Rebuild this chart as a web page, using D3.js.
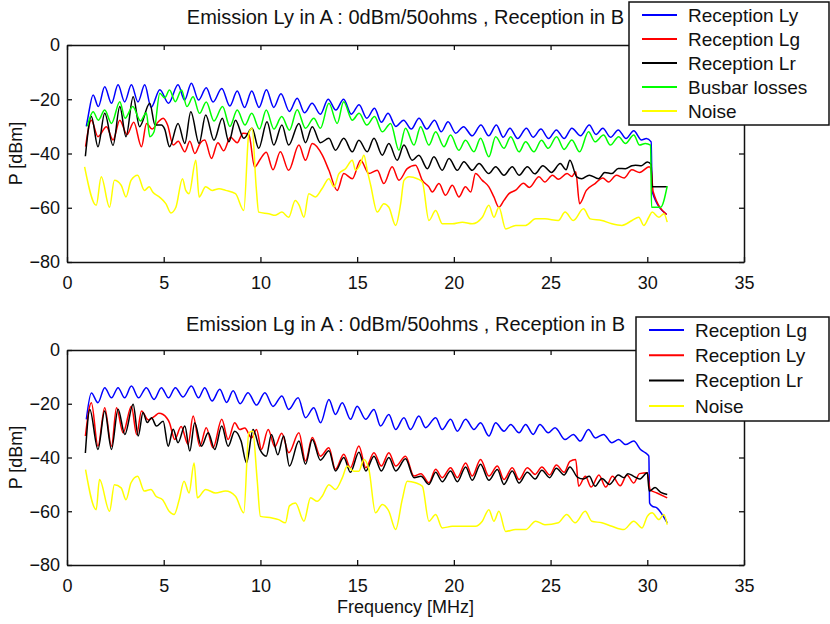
<!DOCTYPE html>
<html>
<head>
<meta charset="utf-8">
<script src="https://cdn.jsdelivr.net/npm/d3@7/dist/d3.min.js"></script>
<style>
  body { margin: 0; background: #fff; }
  svg text { font-family: "Liberation Sans", Arial, Helvetica, sans-serif; fill: #111; }
</style>
</head>
<body>
<script>
// ---------- axis ticks ----------
var xTicks = [0, 5, 10, 15, 20, 25, 30, 35];
var yTicks = [0, -20, -40, -60, -80];

// ---------- top panel : emission Ly in A, [MHz, dBm] ----------
var topLy = [[1.0,-30],[1.1,-26],[1.35,-18.4],[1.62,-22.7],[1.95,-15.4],[2.3,-21.5],[2.64,-14.7],[2.98,-21],[3.33,-14.7],[3.67,-21],[4.02,-14.7],[4.35,-23],[4.8,-16.5],[5.25,-21.5],[5.74,-14.7],[6.08,-20.3],[6.43,-14.1],[6.8,-20.3],[7.2,-15.8],[7.55,-21],[8.0,-16],[8.42,-22.5],[8.8,-17],[9.18,-23],[9.55,-17],[9.93,-23],[10.31,-16.5],[10.69,-23],[11.06,-18],[11.5,-24.5],[11.9,-19.6],[12.28,-25],[12.67,-21.5],[13.1,-25.5],[13.5,-20],[13.9,-24],[14.3,-20],[14.7,-25.5],[15.1,-22],[15.5,-27],[15.9,-23.3],[16.25,-28.5],[16.6,-25.2],[17.0,-30],[17.4,-27.7],[17.8,-31],[18.2,-27],[18.6,-31],[19.0,-27.7],[19.35,-32],[19.7,-28.3],[20.1,-32.5],[20.5,-30.1],[20.95,-33.5],[21.4,-29.5],[21.8,-33.5],[22.2,-29.5],[22.55,-34],[22.9,-30.7],[23.3,-34.5],[23.75,-30.7],[24.1,-34],[24.5,-31],[24.9,-34.5],[25.3,-31.3],[25.7,-34.5],[26.1,-30.7],[26.55,-33.5],[27.0,-29.5],[27.35,-33],[27.7,-30.7],[28.1,-34],[28.5,-31.3],[28.9,-34.5],[29.3,-31.6],[29.7,-35],[29.95,-34.5],[30.2,-35.7],[30.25,-54],[31.0,-62.5]];

var topLg = [[0.96,-37.5],[1.26,-27.7],[1.6,-33.8],[2.04,-30.1],[2.38,-35],[2.73,-27.7],[3.1,-33],[3.45,-28.5],[3.85,-37.5],[4.11,-28.9],[4.4,-31],[4.7,-28.5],[4.97,-27],[5.2,-29.5],[5.49,-36.9],[5.75,-35.5],[6.09,-39.4],[6.35,-35.5],[6.61,-40],[6.9,-36],[7.12,-35],[7.47,-41.8],[7.8,-36],[8.1,-39],[8.45,-34],[8.8,-36],[9.1,-32.5],[9.4,-33],[9.7,-45],[10.0,-42],[10.3,-39.5],[10.65,-46],[11.03,-39.4],[11.46,-46.2],[11.99,-36.9],[12.33,-42.5],[12.68,-36.3],[13.2,-40.6],[13.54,-46.2],[13.97,-53.6],[14.31,-47.4],[14.75,-49.3],[15.18,-42.5],[15.61,-47.4],[16.04,-46.2],[16.38,-51.1],[16.81,-44.9],[17.16,-49.9],[17.59,-45.6],[18.02,-44.3],[18.37,-49.9],[18.71,-52.3],[18.88,-54.2],[19.23,-51.1],[19.57,-55.4],[19.92,-51.7],[20.26,-56],[20.6,-52.3],[20.87,-54.2],[21.12,-47.4],[21.47,-49.9],[21.81,-52.3],[22.07,-56],[22.33,-59.8],[22.59,-57.3],[22.85,-54.8],[23.2,-53.5],[23.6,-51],[23.9,-52.5],[24.4,-48.6],[24.7,-50.5],[25.1,-48],[25.4,-49.5],[25.85,-47.4],[26.1,-48.5],[26.3,-46.7],[26.5,-58.5],[26.85,-53.6],[27.3,-51.1],[27.7,-49],[28.0,-50.5],[28.4,-48],[28.8,-49],[29.2,-46],[29.6,-47],[30.1,-44.9],[30.2,-46],[30.3,-54],[31.0,-62.5]];

var topLr = [[0.95,-41],[1.26,-26.4],[1.6,-37.5],[1.95,-25.2],[2.38,-37],[2.73,-22.7],[3.05,-33.8],[3.42,-19.1],[3.75,-30.1],[4.28,-21.5],[4.55,-29.5],[4.88,-29.5],[5.05,-31],[5.3,-37.5],[5.74,-28.9],[6.09,-36.3],[6.4,-24.6],[6.83,-36.3],[7.17,-25.8],[7.6,-35.1],[8.03,-27],[8.37,-35.7],[8.71,-27.7],[9.14,-34.4],[9.57,-30.7],[9.91,-38.1],[10.34,-28.3],[10.69,-36.9],[11.11,-29.5],[11.46,-36.9],[11.99,-28.9],[12.33,-36],[12.68,-30.1],[13.1,-36],[13.54,-34.4],[13.88,-38.8],[14.31,-34.4],[14.75,-39.4],[15.09,-35.1],[15.52,-39.4],[15.87,-34.4],[16.3,-40.6],[16.64,-36.3],[17.07,-42.5],[17.42,-36.9],[17.85,-42.5],[18.19,-40.6],[18.63,-45.6],[18.97,-41.2],[19.4,-46.2],[19.75,-41.8],[20.18,-46.2],[20.52,-43],[20.95,-46.2],[21.3,-43.7],[21.81,-47.4],[22.16,-44.9],[22.59,-48],[23.02,-44.9],[23.37,-48],[23.8,-44.9],[24.19,-47.5],[24.6,-44.5],[25.05,-47],[25.5,-43.7],[25.8,-46],[26.0,-42.5],[26.35,-48.6],[26.61,-49.3],[27.0,-48],[27.48,-49.3],[27.8,-47],[28.17,-47.4],[28.5,-45.5],[28.87,-45.6],[29.2,-44.5],[29.39,-44.3],[29.7,-44.5],[30.0,-43.1],[30.2,-44],[30.25,-52.3],[31.03,-52.3]];

var topBusbar = [[1.05,-30],[1.35,-24.6],[1.62,-27.7],[1.95,-24],[2.3,-28.9],[2.73,-20.9],[3.0,-27],[3.4,-22.7],[3.8,-28],[4.1,-25],[4.28,-33.8],[4.5,-32],[4.8,-17.8],[5.05,-19.5],[5.3,-16.6],[5.6,-20.9],[5.92,-16.6],[6.2,-22.7],[6.52,-19.1],[6.85,-25.2],[7.2,-21],[7.6,-28],[8.04,-22.7],[8.42,-30],[8.8,-24],[9.2,-29.5],[9.55,-25.2],[9.95,-31],[10.3,-24],[10.7,-31],[11.1,-26.4],[11.5,-31.4],[11.9,-23.9],[12.33,-30.7],[12.76,-27],[13.1,-30.7],[13.54,-21.5],[13.97,-28.9],[14.3,-20.9],[14.75,-27.7],[15.1,-25.2],[15.5,-29.5],[15.9,-26.4],[16.3,-32],[16.73,-28.9],[17.16,-38.8],[17.5,-30.7],[17.94,-36.9],[18.28,-30.1],[18.71,-36.9],[19.06,-32],[19.49,-37.5],[19.83,-33.2],[20.26,-38.8],[20.6,-35.1],[21.04,-39.4],[21.38,-34.4],[21.81,-41.2],[22.16,-33.8],[22.59,-38.1],[22.94,-33.8],[23.37,-39.4],[23.71,-35.7],[24.14,-39.4],[24.53,-35.1],[24.88,-38.1],[25.31,-33.8],[25.7,-38.5],[26.1,-35],[26.5,-39.4],[26.96,-32],[27.3,-35.7],[27.74,-33.2],[28.09,-36.9],[28.52,-33.8],[28.87,-36.3],[29.3,-33.2],[29.6,-36.9],[29.9,-36.3],[30.17,-36.9],[30.22,-59.8],[30.69,-59.8],[31.03,-52]];

var topNoise = [[0.91,-44.9],[1.51,-59.1],[1.77,-48.6],[2.2,-59.8],[2.45,-49.9],[2.8,-51.7],[3.05,-56],[3.31,-49.9],[3.65,-48],[4.0,-53.6],[4.25,-52.3],[4.43,-54.2],[4.77,-56],[5.11,-58.5],[5.37,-61.9],[5.63,-59.8],[5.97,-49.3],[6.14,-53.6],[6.31,-54.8],[6.66,-42.5],[6.83,-56],[7.17,-52.3],[7.51,-53.6],[7.86,-53],[8.2,-53.6],[8.71,-54.8],[9.14,-61],[9.4,-32.6],[9.57,-30.7],[9.78,-52.3],[9.91,-61.6],[10.43,-62.2],[10.77,-62.8],[11.11,-61.6],[11.46,-63.5],[11.8,-57.3],[12.0,-59],[12.25,-63.5],[12.5,-54.8],[12.85,-56],[13.19,-52.9],[13.54,-49.3],[13.8,-52.3],[14.06,-47.4],[14.4,-45.6],[14.75,-42.5],[14.92,-46.2],[15.18,-43.7],[15.35,-40.6],[15.52,-46.2],[15.7,-51.7],[16.04,-61.6],[16.38,-58.5],[16.64,-59.8],[16.99,-66.5],[17.25,-58.5],[17.42,-49.9],[17.68,-48.6],[18.11,-49.3],[18.37,-50.5],[18.71,-64.7],[19.06,-61],[19.4,-65.9],[19.92,-65.9],[20.44,-65.3],[20.95,-65.9],[21.47,-63.5],[21.81,-59.1],[22.07,-63.5],[22.33,-59.8],[22.68,-67.8],[23.2,-66.5],[23.71,-66.5],[24.23,-64.1],[24.71,-64.1],[25.4,-64.7],[25.75,-61.6],[26.18,-64.7],[26.7,-60.4],[27.05,-64.1],[27.65,-64.7],[28.17,-65.9],[28.69,-66.5],[29.21,-64.7],[29.56,-63.5],[29.82,-66.5],[30.08,-63.5],[30.25,-61.6],[30.6,-63.5],[30.86,-62.2],[31.03,-65.3]];

// ---------- bottom panel : emission Lg in A ----------
var botLg = [[1.0,-25.8],[1.26,-16],[1.6,-19.6],[1.95,-14],[2.3,-17.8],[2.64,-14],[2.98,-17.8],[3.33,-13.4],[3.7,-17.8],[4.1,-14],[4.5,-18.4],[4.88,-14],[5.25,-17.8],[5.6,-14],[6.0,-17.5],[6.43,-13.4],[6.8,-17.8],[7.12,-14],[7.5,-19],[7.9,-14.6],[8.25,-19.5],[8.59,-15.2],[8.95,-20],[9.36,-15.9],[9.8,-20.5],[10.23,-15.9],[10.65,-21],[11.11,-17.1],[11.46,-22.1],[11.95,-17.8],[12.33,-25.2],[12.76,-21.5],[13.11,-27.1],[13.54,-18.4],[13.88,-24],[14.23,-19.6],[14.66,-25.8],[15.0,-20.9],[15.44,-25.8],[15.87,-22.1],[16.21,-28.3],[16.64,-24],[16.99,-29.6],[17.42,-25.2],[17.76,-29.6],[18.19,-24.6],[18.54,-28.9],[19.06,-25.2],[19.4,-29.6],[19.83,-25.8],[20.18,-30.2],[20.61,-25.8],[21.04,-29.6],[21.38,-27.1],[21.81,-32],[22.16,-27.1],[22.59,-30.2],[22.94,-27.7],[23.37,-30.8],[23.71,-27.7],[24.1,-31.4],[24.45,-27.7],[24.88,-30.8],[25.23,-28.9],[25.75,-33.3],[26.18,-31.4],[26.53,-33.9],[26.96,-29.6],[27.31,-32.7],[27.74,-31.4],[28.17,-34.5],[28.52,-33.3],[28.87,-35.2],[29.3,-33.9],[29.65,-37],[29.91,-38.3],[30.08,-39.5],[30.12,-56.9],[30.25,-58.1],[30.51,-58.8],[30.77,-61.2],[31.03,-64.3]];

var botLy = [[0.95,-32],[1.26,-19.6],[1.6,-35.8],[1.95,-21.5],[2.3,-35.8],[2.56,-21.5],[2.9,-30.8],[3.33,-20.9],[3.6,-31.5],[3.85,-22.7],[4.2,-26],[4.54,-24.6],[4.75,-23.5],[4.97,-24],[5.3,-27.1],[5.57,-33.3],[5.9,-28.5],[6.26,-35.1],[6.52,-24.6],[6.87,-35.8],[7.2,-28.9],[7.55,-36.4],[8.0,-25.8],[8.33,-33.3],[8.67,-27.1],[8.93,-29.6],[9.19,-29],[9.54,-32.7],[9.8,-29.6],[10.05,-37],[10.4,-29.6],[10.74,-36],[11.1,-31],[11.47,-38.2],[11.99,-30.8],[12.33,-41.3],[12.68,-32.6],[13.1,-39.5],[13.54,-36.4],[13.88,-44.4],[14.31,-38.8],[14.65,-43.8],[15.09,-35.7],[15.45,-43.8],[15.87,-38.2],[16.25,-43.2],[16.64,-38.2],[17.0,-43.2],[17.5,-39.5],[17.94,-46.9],[18.3,-46],[18.71,-49.4],[19.06,-44.4],[19.4,-47.5],[19.83,-43.8],[20.18,-47.5],[20.61,-42],[20.95,-46.9],[21.38,-40.7],[21.81,-46.9],[22.25,-43.2],[22.59,-48.2],[23.02,-43.8],[23.37,-48.2],[23.8,-43.8],[24.2,-46.3],[24.55,-43.5],[24.95,-46.5],[25.3,-42.8],[25.7,-45.5],[26.0,-41.4],[26.3,-40.7],[26.45,-50.7],[26.8,-47],[27.1,-51],[27.5,-46.5],[27.85,-51],[28.2,-47],[28.6,-50.5],[28.95,-46.5],[29.3,-49.5],[29.6,-46],[30.0,-45.7],[30.15,-52],[30.5,-53.2],[31.03,-55]];

var botLr = [[0.95,-38.3],[1.18,-22.1],[1.6,-37],[1.95,-22.7],[2.3,-37],[2.64,-22],[2.99,-31.4],[3.42,-20.2],[3.68,-32],[3.93,-23.3],[4.15,-27],[4.37,-25.2],[4.62,-28.3],[4.97,-26.5],[5.23,-35.8],[5.49,-29.5],[5.74,-34.5],[6.09,-28.3],[6.35,-37.6],[6.6,-27.1],[6.95,-35.8],[7.3,-30.8],[7.64,-37],[8.0,-28.3],[8.33,-35.8],[8.67,-30.2],[9.0,-33.9],[9.28,-42],[9.62,-29.6],[9.97,-37],[10.3,-39.5],[10.57,-31.4],[10.9,-39],[11.2,-32],[11.5,-43.2],[11.99,-33.9],[12.33,-42.5],[12.68,-33.3],[13.1,-41],[13.54,-37.5],[13.88,-45],[14.31,-40],[14.65,-45.5],[15.09,-38],[15.45,-45],[15.87,-39.5],[16.25,-45],[16.64,-40],[17.0,-45],[17.5,-40.5],[17.94,-47.5],[18.3,-47],[18.71,-50],[19.06,-45.5],[19.4,-49],[19.83,-45],[20.18,-49],[20.61,-43.5],[20.95,-48.5],[21.38,-42.5],[21.81,-48.5],[22.25,-44.5],[22.59,-50],[23.02,-45],[23.37,-49.5],[23.8,-45.5],[24.2,-48],[24.55,-44.7],[24.95,-47.5],[25.3,-44],[25.7,-46.5],[26.0,-43.5],[26.4,-47.4],[26.7,-48],[27.0,-47],[27.3,-50.7],[27.65,-47.8],[28.05,-50],[28.5,-46.5],[28.8,-47.5],[29.0,-46],[29.3,-47],[29.6,-48],[30.0,-45.7],[30.1,-52.5],[30.4,-51.2],[30.7,-53],[31.03,-53.8]];

var botNoise = [[0.96,-44.5],[1.51,-59.4],[1.68,-48.2],[2.2,-60],[2.45,-50.1],[2.8,-51.3],[3.05,-55.7],[3.31,-49.4],[3.65,-47],[4.0,-52.5],[4.34,-51.9],[4.6,-54.4],[4.94,-55.7],[5.28,-60],[5.54,-61.2],[5.8,-55.7],[6.05,-48.8],[6.31,-53.2],[6.57,-42],[6.74,-55],[7.17,-51.9],[7.68,-53.2],[8.2,-52.5],[8.71,-54.4],[9.14,-60.6],[9.4,-30.8],[9.6,-30.2],[9.83,-48.2],[10.0,-61.9],[10.6,-62.5],[10.94,-63.1],[11.29,-64.3],[11.5,-58],[11.81,-56.9],[12.25,-63.7],[12.59,-55],[12.94,-56.3],[13.19,-54.4],[13.54,-50.1],[13.88,-51.9],[14.23,-47.6],[14.49,-43.2],[14.83,-45.1],[15.09,-45.1],[15.35,-40.7],[15.61,-44.5],[15.95,-60.6],[16.3,-57.5],[16.64,-60],[16.99,-66.8],[17.33,-55.7],[17.59,-48.8],[18.02,-49.4],[18.37,-50.7],[18.71,-63.7],[19.06,-61.2],[19.4,-66.2],[19.92,-65.6],[20.44,-65.6],[21.12,-65.6],[21.47,-63.7],[21.81,-59.4],[22.07,-63.7],[22.33,-60],[22.68,-67.5],[23.19,-66.8],[23.71,-66.8],[24.23,-63.7],[24.71,-65],[25.4,-64.3],[25.83,-61.2],[26.27,-64.3],[26.79,-60],[27.13,-63.7],[27.65,-64.3],[28.17,-65.6],[28.78,-66.8],[29.3,-63.7],[29.73,-66.2],[30.0,-61.9],[30.25,-60.6],[30.6,-63.1],[30.86,-61.2],[31.03,-65]];

// ---------- drawing ----------
var width = 830, height = 624;
var svg = d3.select("body").append("svg")
    .attr("width", width)
    .attr("height", height);

svg.append("rect").attr("width", width).attr("height", height).attr("fill", "#fff");

var x = d3.scaleLinear().domain([0, 35]).range([67, 744]);

var panels = [
  { title: "Emission Ly in A : 0dBm/50ohms , Reception in B", top: 45, bottom: 262, titleY: 24,
    legend: { x: 629, y: 2, w: 200, h: 123, row: 24 },
    series: [
      { name: "Reception Ly", color: "#0000ff", data: topLy },
      { name: "Reception Lg", color: "#ff0000", data: topLg },
      { name: "Reception Lr", color: "#000000", data: topLr },
      { name: "Busbar losses", color: "#00ff00", data: topBusbar },
      { name: "Noise", color: "#ffff00", data: topNoise }
    ] },
  { title: "Emission Lg in A : 0dBm/50ohms , Reception in B", top: 350, bottom: 565, titleY: 331,
    legend: { x: 636, y: 317, w: 193, h: 104, row: 25.3 },
    series: [
      { name: "Reception Lg", color: "#0000ff", data: botLg },
      { name: "Reception Ly", color: "#ff0000", data: botLy },
      { name: "Reception Lr", color: "#000000", data: botLr },
      { name: "Noise", color: "#ffff00", data: botNoise }
    ] }
];

panels.forEach(function(p) {
  var y = d3.scaleLinear().domain([-80, 0]).range([p.bottom, p.top]);
  var g = svg.append("g");

  var line = d3.line()
      .x(function(d) { return x(d[0]); })
      .y(function(d) { return y(d[1]); })
      .curve(d3.curveMonotoneX);

  // curves, in plotting order
  g.selectAll(".curve")
      .data(p.series)
    .enter().append("path")
      .attr("class", "curve")
      .attr("fill", "none")
      .attr("stroke", function(d) { return d.color; })
      .attr("stroke-width", 1.5)
      .attr("stroke-linejoin", "round")
      .attr("d", function(d) { return line(d.data); });

  // box axes with inward ticks
  var ax = g.append("g").attr("class", "axes");
  ax.append("g")
      .attr("transform", "translate(0," + p.bottom + ")")
      .call(d3.axisBottom(x).tickValues(xTicks).tickSizeInner(-5).tickSizeOuter(0).tickPadding(14));
  ax.append("g")
      .attr("transform", "translate(0," + p.top + ")")
      .call(d3.axisTop(x).tickValues(xTicks).tickSizeInner(-5).tickSizeOuter(0).tickFormat(""));
  ax.append("g")
      .attr("transform", "translate(" + x(0) + ",0)")
      .call(d3.axisLeft(y).tickValues(yTicks).tickSizeInner(-5).tickSizeOuter(0).tickPadding(7));
  ax.append("g")
      .attr("transform", "translate(" + x(35) + ",0)")
      .call(d3.axisRight(y).tickValues(yTicks).tickSizeInner(-5).tickSizeOuter(0).tickFormat(""));

  ax.selectAll("path.domain").attr("stroke", "#111").attr("stroke-width", 1.5);
  ax.selectAll(".tick line").attr("stroke", "#111").attr("stroke-width", 1.3);
  ax.selectAll(".tick text").attr("font-size", 18).attr("font-family", null).attr("fill", "#111");

  // y label
  g.append("text")
      .attr("transform", "translate(22," + (p.top + p.bottom) / 2 + ") rotate(-90)")
      .attr("text-anchor", "middle")
      .attr("font-size", 18)
      .text("P [dBm]");

  // title
  g.append("text")
      .attr("x", (x(0) + x(35)) / 2)
      .attr("y", p.titleY)
      .attr("text-anchor", "middle")
      .attr("font-size", 20)
      .text(p.title);

  // legend
  var L = p.legend;
  var lg = g.append("g").attr("transform", "translate(" + L.x + "," + L.y + ")");
  lg.append("rect")
      .attr("width", L.w).attr("height", L.h)
      .attr("fill", "#fff").attr("stroke", "#111").attr("stroke-width", 1.5);
  var item = lg.selectAll(".item")
      .data(p.series)
    .enter().append("g")
      .attr("class", "item")
      .attr("transform", function(d, i) { return "translate(0," + (13 + i * L.row) + ")"; });
  item.append("line")
      .attr("x1", 13).attr("x2", 48)
      .attr("stroke", function(d) { return d.color; })
      .attr("stroke-width", 2);
  item.append("text")
      .attr("x", 59)
      .attr("dy", "0.35em")
      .attr("font-size", 19)
      .text(function(d) { return d.name; });
});

// x label under the lower panel
svg.append("text")
    .attr("x", (x(0) + x(35)) / 2)
    .attr("y", 613)
    .attr("text-anchor", "middle")
    .attr("font-size", 18)
    .text("Frequency [MHz]");
</script>
</body>
</html>
